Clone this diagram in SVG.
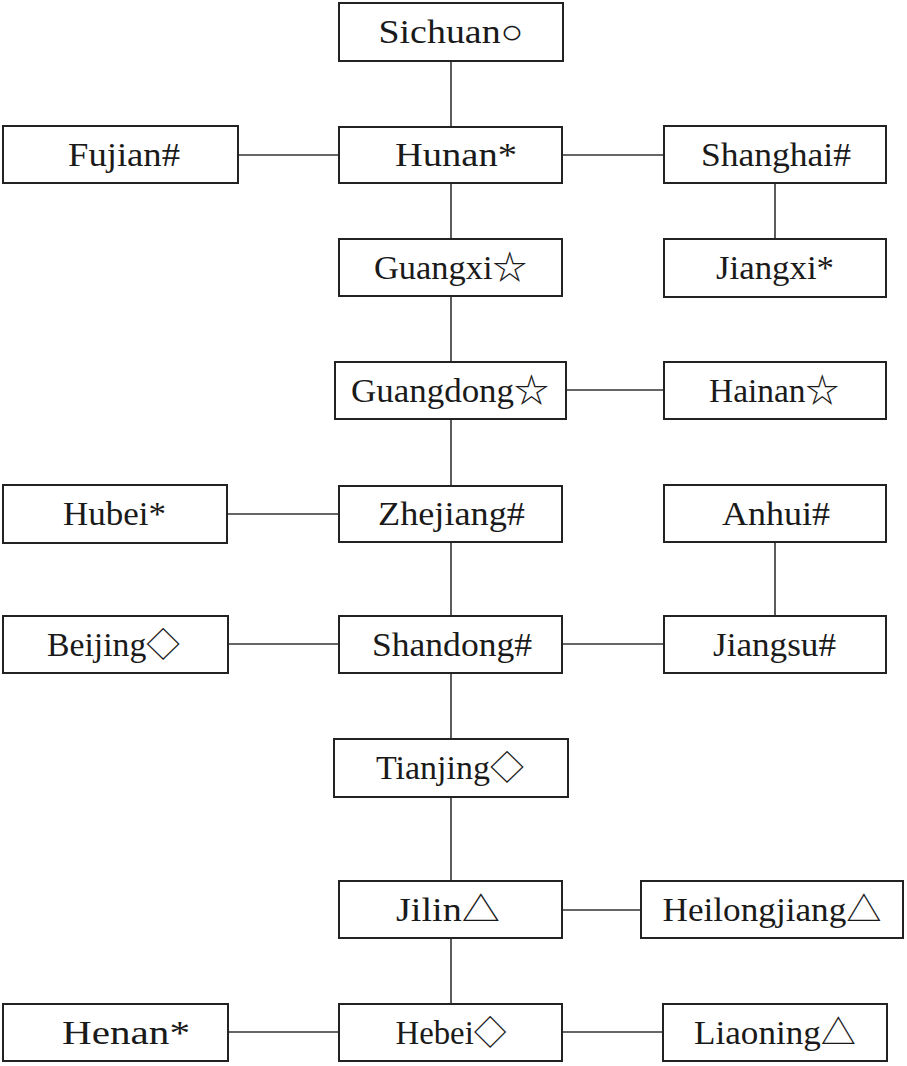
<svg xmlns="http://www.w3.org/2000/svg" width="907" height="1066" viewBox="0 0 907 1066">
<style>
.box{fill:#fff;stroke:#222;stroke-width:2}
.lbl{font-family:"Liberation Serif","Noto Sans CJK SC",serif;font-size:33px;fill:#1a1a1a;text-anchor:middle}
#connectors line{stroke:#333;stroke-width:1.6}
</style>
<rect width="907" height="1066" fill="#fff"/>
<g id="connectors">
<line x1="451" y1="61" x2="451" y2="127"/>
<line x1="238" y1="155" x2="339" y2="155"/>
<line x1="562" y1="155" x2="664" y2="155"/>
<line x1="775" y1="183" x2="775" y2="239"/>
<line x1="451" y1="183" x2="451" y2="239"/>
<line x1="451" y1="296" x2="451" y2="362"/>
<line x1="566" y1="390" x2="664" y2="390"/>
<line x1="451" y1="419" x2="451" y2="486"/>
<line x1="227" y1="514" x2="339" y2="514"/>
<line x1="451" y1="542" x2="451" y2="616"/>
<line x1="228" y1="644" x2="339" y2="644"/>
<line x1="562" y1="644" x2="664" y2="644"/>
<line x1="775" y1="542" x2="775" y2="616"/>
<line x1="451" y1="673" x2="451" y2="739"/>
<line x1="451" y1="797" x2="451" y2="881"/>
<line x1="562" y1="910" x2="641" y2="910"/>
<line x1="451" y1="938" x2="451" y2="1004"/>
<line x1="228" y1="1032" x2="339" y2="1032"/>
<line x1="562" y1="1032" x2="663" y2="1032"/>
</g>
<g id="sichuan"><rect class="box" x="339" y="3" width="224" height="58"/><text class="lbl" x="451" y="43" textLength="145" lengthAdjust="spacingAndGlyphs">Sichuan○</text></g>
<g id="fujian"><rect class="box" x="3" y="126" width="235" height="57"/><text class="lbl" x="124" y="166" textLength="112" lengthAdjust="spacingAndGlyphs">Fujian#</text></g>
<g id="hunan"><rect class="box" x="339" y="127" width="223" height="56"/><text class="lbl" x="456" y="166" textLength="122" lengthAdjust="spacingAndGlyphs">Hunan*</text></g>
<g id="shanghai"><rect class="box" x="664" y="126" width="222" height="57"/><text class="lbl" x="776" y="166" textLength="150" lengthAdjust="spacingAndGlyphs">Shanghai#</text></g>
<g id="guangxi"><rect class="box" x="339" y="239" width="223" height="57"/><text class="lbl" x="450.5" y="279" textLength="153" lengthAdjust="spacingAndGlyphs">Guangxi☆</text></g>
<g id="jiangxi"><rect class="box" x="664" y="239" width="222" height="58"/><text class="lbl" x="775" y="279" textLength="118" lengthAdjust="spacingAndGlyphs">Jiangxi*</text></g>
<g id="guangdong"><rect class="box" x="335" y="362" width="231" height="57"/><text class="lbl" x="450" y="402" textLength="198" lengthAdjust="spacingAndGlyphs">Guangdong☆</text></g>
<g id="hainan"><rect class="box" x="664" y="362" width="222" height="57"/><text class="lbl" x="774" y="402" textLength="130" lengthAdjust="spacingAndGlyphs">Hainan☆</text></g>
<g id="hubei"><rect class="box" x="3" y="485" width="224" height="58"/><text class="lbl" x="114.5" y="525" textLength="103" lengthAdjust="spacingAndGlyphs">Hubei*</text></g>
<g id="zhejiang"><rect class="box" x="339" y="486" width="223" height="56"/><text class="lbl" x="451.5" y="525" textLength="147" lengthAdjust="spacingAndGlyphs">Zhejiang#</text></g>
<g id="anhui"><rect class="box" x="664" y="485" width="222" height="57"/><text class="lbl" x="776" y="525" textLength="108" lengthAdjust="spacingAndGlyphs">Anhui#</text></g>
<g id="beijing"><rect class="box" x="3" y="616" width="225" height="57"/><text class="lbl" x="113.5" y="656" textLength="133" lengthAdjust="spacingAndGlyphs">Beijing◇</text></g>
<g id="shandong"><rect class="box" x="339" y="616" width="223" height="57"/><text class="lbl" x="452" y="656" textLength="160" lengthAdjust="spacingAndGlyphs">Shandong#</text></g>
<g id="jiangsu"><rect class="box" x="664" y="616" width="222" height="57"/><text class="lbl" x="774.5" y="656" textLength="123" lengthAdjust="spacingAndGlyphs">Jiangsu#</text></g>
<g id="tianjing"><rect class="box" x="334" y="739" width="234" height="58"/><text class="lbl" x="450" y="779" textLength="148" lengthAdjust="spacingAndGlyphs">Tianjing◇</text></g>
<g id="jilin"><rect class="box" x="339" y="881" width="223" height="57"/><text class="lbl" x="448" y="921" textLength="104" lengthAdjust="spacingAndGlyphs">Jilin△</text></g>
<g id="heilongjiang"><rect class="box" x="641" y="881" width="262" height="57"/><text class="lbl" x="772" y="921" textLength="219" lengthAdjust="spacingAndGlyphs">Heilongjiang△</text></g>
<g id="henan"><rect class="box" x="3" y="1004" width="225" height="57"/><text class="lbl" x="126" y="1044" textLength="128" lengthAdjust="spacingAndGlyphs">Henan*</text></g>
<g id="hebei"><rect class="box" x="339" y="1004" width="223" height="57"/><text class="lbl" x="451" y="1044" textLength="111" lengthAdjust="spacingAndGlyphs">Hebei◇</text></g>
<g id="liaoning"><rect class="box" x="663" y="1004" width="224" height="57"/><text class="lbl" x="775" y="1044" textLength="162" lengthAdjust="spacingAndGlyphs">Liaoning△</text></g>
</svg>
